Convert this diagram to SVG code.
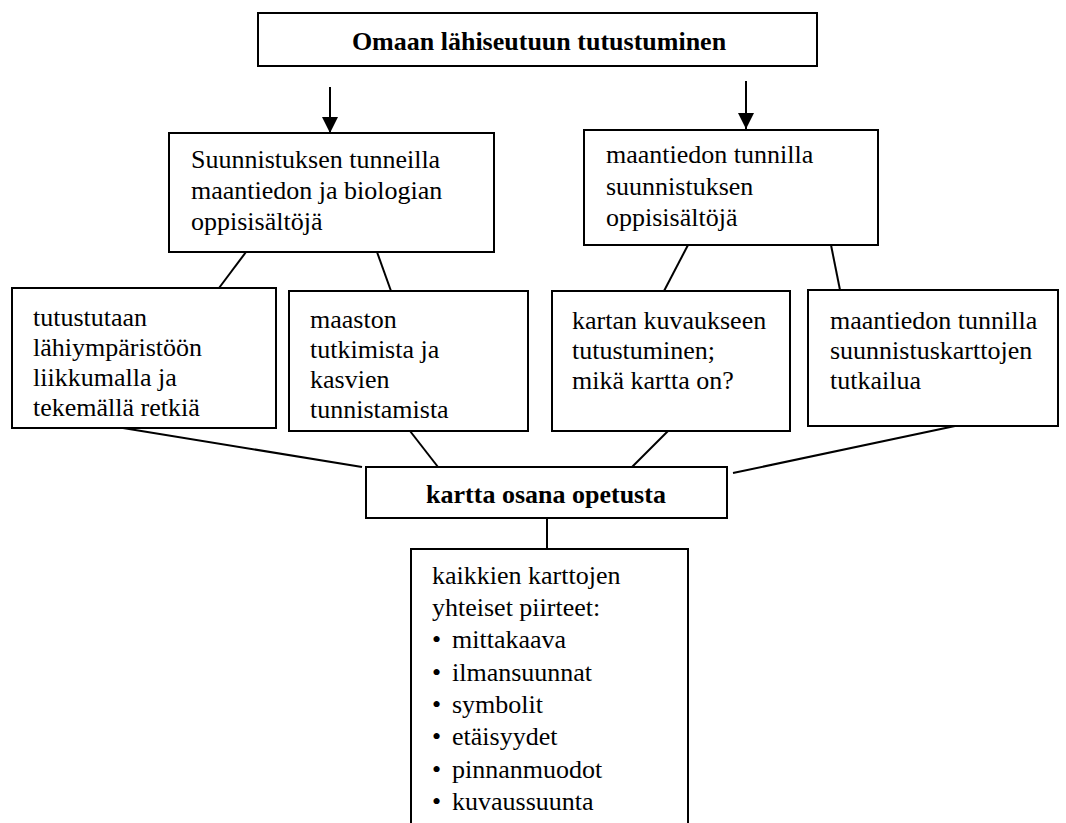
<svg xmlns="http://www.w3.org/2000/svg" width="1066" height="823" viewBox="0 0 1066 823">
<style>
.box{fill:#fff;stroke:#000;stroke-width:2}
.t{font-family:"Liberation Serif","Times New Roman",serif;font-size:26px;fill:#000}
.b{font-weight:bold}
.c line{stroke:#000;stroke-width:2}
</style>
<defs>
<marker id="ah" markerUnits="userSpaceOnUse" viewBox="0 0 16 16" refX="16" refY="8" markerWidth="16" markerHeight="16" orient="auto">
<path d="M0,0 L16,8 L0,16 Z" fill="#000"/>
</marker>
</defs>
<rect width="1066" height="823" fill="#fff"/>
<g class="c" id="connectors">
<line x1="330" y1="87" x2="330" y2="133" marker-end="url(#ah)"/>
<line x1="746" y1="81" x2="746" y2="129" marker-end="url(#ah)"/>
<line x1="246" y1="252" x2="219" y2="288"/>
<line x1="377" y1="252" x2="391" y2="291"/>
<line x1="688" y1="245" x2="664" y2="291"/>
<line x1="831" y1="245" x2="840" y2="290"/>
<line x1="123" y1="428" x2="362" y2="467"/>
<line x1="410" y1="431" x2="438" y2="467"/>
<line x1="668" y1="431" x2="632" y2="467"/>
<line x1="955" y1="426" x2="733" y2="473"/>
<line x1="547" y1="518" x2="547" y2="549"/>
</g>
<g id="top">
<rect class="box" x="258" y="13" width="559" height="53"/>
<text class="t b" x="539" y="50" text-anchor="middle">Omaan lähiseutuun tutustuminen</text>
</g>
<g id="midL">
<rect class="box" x="169" y="133" width="325" height="119"/>
<text class="t" x="191" y="168">Suunnistuksen tunneilla</text>
<text class="t" x="191" y="199">maantiedon ja biologian</text>
<text class="t" x="191" y="230">oppisisältöjä</text>
</g>
<g id="midR">
<rect class="box" x="584" y="130" width="294" height="115"/>
<text class="t" x="606" y="163">maantiedon tunnilla</text>
<text class="t" x="606" y="195">suunnistuksen</text>
<text class="t" x="606" y="226">oppisisältöjä</text>
</g>
<g id="boxA">
<rect class="box" x="12" y="288" width="264" height="140"/>
<text class="t" x="33" y="326">tutustutaan</text>
<text class="t" x="33" y="356">lähiympäristöön</text>
<text class="t" x="33" y="386">liikkumalla ja</text>
<text class="t" x="33" y="416">tekemällä retkiä</text>
</g>
<g id="boxB">
<rect class="box" x="289" y="291" width="239" height="140"/>
<text class="t" x="310" y="328">maaston</text>
<text class="t" x="310" y="358">tutkimista ja</text>
<text class="t" x="310" y="388">kasvien</text>
<text class="t" x="310" y="418">tunnistamista</text>
</g>
<g id="boxC">
<rect class="box" x="552" y="291" width="238" height="140"/>
<text class="t" x="572" y="329">kartan kuvaukseen</text>
<text class="t" x="572" y="359">tutustuminen;</text>
<text class="t" x="572" y="389">mikä kartta on?</text>
</g>
<g id="boxD">
<rect class="box" x="808" y="290" width="250" height="136"/>
<text class="t" x="830" y="329">maantiedon tunnilla</text>
<text class="t" x="830" y="359">suunnistuskarttojen</text>
<text class="t" x="830" y="389">tutkailua</text>
</g>
<g id="center">
<rect class="box" x="366" y="467" width="361" height="51"/>
<text class="t b" x="546" y="503" text-anchor="middle">kartta osana opetusta</text>
</g>
<g id="bottom">
<rect class="box" x="411" y="549" width="277" height="300"/>
<text class="t" x="432" y="584">kaikkien karttojen</text>
<text class="t" x="432" y="616">yhteiset piirteet:</text>
<text class="t" y="648"><tspan x="432">•</tspan><tspan x="452">mittakaava</tspan></text>
<text class="t" y="681"><tspan x="432">•</tspan><tspan x="452">ilmansuunnat</tspan></text>
<text class="t" y="713"><tspan x="432">•</tspan><tspan x="452">symbolit</tspan></text>
<text class="t" y="745"><tspan x="432">•</tspan><tspan x="452">etäisyydet</tspan></text>
<text class="t" y="778"><tspan x="432">•</tspan><tspan x="452">pinnanmuodot</tspan></text>
<text class="t" y="810"><tspan x="432">•</tspan><tspan x="452">kuvaussuunta</tspan></text>
</g>
</svg>
